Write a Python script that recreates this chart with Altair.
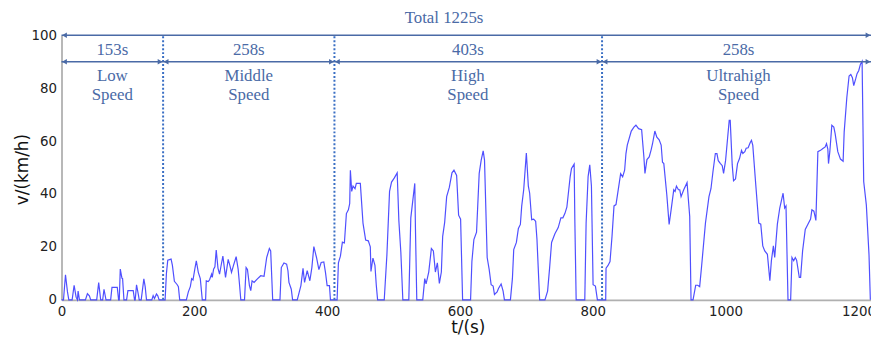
import altair as alt
import pandas as pd

# ---- speed profile (time s, speed km/h) ----
T = [0, 3, 6, 9, 11, 16, 19, 22, 24, 25, 27, 36, 39, 42, 44, 53, 56, 59, 62, 64, 67, 74, 76, 84, 86, 87,
     88.5, 91, 92, 94, 98, 100, 108, 110, 111, 113, 116, 117, 120, 124, 126, 128, 136, 138, 140, 143, 145, 147,
     156, 158, 160, 165, 167, 170, 174, 176, 178, 188, 191, 194, 196, 198, 201, 203, 206, 209, 212,
     217, 218, 221, 223, 226, 227, 229, 231, 233, 235.6, 238, 240, 243, 247, 251, 253.7, 256, 259, 263, 266, 268, 270,
     275.6, 278, 280, 283, 285, 287, 290, 295, 300, 305, 309, 313, 315, 318,
     329, 331, 335, 339, 341, 342.5, 346, 348, 355, 358, 360.5, 363.7, 366, 370, 374, 377, 380, 384, 387.6, 391, 395,
     397.5, 400, 403.5, 405,
     415, 417, 420, 423, 426, 429, 432, 434, 435, 437, 439, 442, 444, 447, 450, 454, 458, 462, 465, 466, 469, 472, 474, 476,
     486, 490, 494, 497, 501, 505.5, 508, 511, 514, 523, 526, 532, 533, 535,
     544, 547, 549, 553, 557, 560, 563, 566, 569, 572, 574, 577, 580, 584, 588, 591, 595, 598, 601, 604,
     616, 618, 621, 625, 629, 632, 635, 637, 641, 644, 647, 650, 652, 656, 658, 662, 665, 667,
     676, 679, 681, 685, 688, 691, 693, 696, 700, 703, 705, 708, 711, 714, 716, 720,
     728, 732, 735, 738, 743, 748, 752, 755, 758, 761, 766, 768, 772, 773, 775,
     788, 790, 793, 795.5, 798, 800.5, 804, 807,
     819.5, 820, 823, 826, 829, 832, 835, 838, 842, 845, 848, 850, 852, 858, 862, 865, 869, 873.6, 877, 878.6,
     881.6, 885, 888, 890, 893.5, 896.5, 900, 903, 905, 907, 911.5, 915, 918, 922, 924, 926, 929, 931, 933, 937,
     942, 946, 948, 951, 955, 958, 961, 964, 969.7, 975, 978, 981, 984.6, 987, 989, 992, 995, 997, 1000, 1003,
     1005.5, 1007, 1010, 1012, 1015, 1018, 1021, 1024, 1026, 1029, 1031, 1034, 1037, 1039, 1041, 1045.5, 1050,
     1053, 1056, 1059, 1063, 1066.7, 1069, 1072, 1074, 1078, 1081.6, 1086.6, 1089, 1091, 1094, 1098, 1100,
     1102.6, 1105, 1107, 1111, 1113, 1116, 1120, 1124, 1128, 1130, 1133, 1136, 1139, 1143, 1146.6, 1150, 1152,
     1154, 1155, 1157, 1160, 1163, 1165, 1169, 1173, 1177, 1178.6, 1182.6, 1186, 1188.6, 1191, 1193, 1196, 1198,
     1200.6, 1203, 1205.6, 1208, 1212, 1216, 1218]
V = [0, 0, 9.5, 3, 0, 0, 5.5, 1, 0, 3.3, 0, 0, 2.3, 1.5, 0, 0, 6.5, 0, 0, 4, 0, 0, 4.7, 4.7, 0, 0,
     11.6, 8.2, 8, 0, 0, 3.5, 3.5, 0, 0, 5.7, 1.6, 0, 0, 7.9, 5, 0, 0, 1.6, 0.5, 2.2, 1.5, 0,
     0, 10, 15, 15.4, 13, 7, 5.8, 5, 0, 0, 3, 5, 8, 7.5, 12, 14.7, 10.4, 8, 0,
     0, 7.2, 6.9, 7.6, 9.7, 8.5, 11.6, 12.5, 18.8, 12, 9.7, 12.5, 16.5, 8.5, 15.3, 12.8, 10.4, 13, 16.3, 11.6, 6, 0,
     0, 12.2, 11.5, 5.4, 3.5, 7.2, 6.6, 7.9, 9.1, 8.9, 16, 19.4, 18.5, 0,
     0, 12.2, 13.9, 13.5, 11, 6.6, 4, 0, 0, 2.9, 5.4, 11.9, 6.6, 11, 7.2, 12.2, 20.1, 16, 11.4, 14.1, 14.3,
     10.4, 5.4, 5.4, 0,
     0, 14, 16.5, 21.8, 21.5, 32.6, 34, 36.4, 49, 41, 43, 42, 44, 44, 44, 29, 22.6, 22.3, 20, 10.7, 15.8, 13, 5.6, 0,
     0, 17, 41, 44.5, 46, 48, 30, 18, 0, 0, 31, 44, 27, 0,
     0, 8, 6, 10.5, 19.4, 18.5, 10.5, 14, 6.2, 10.5, 24, 29.3, 39, 42.5, 48, 49, 47, 32, 30.5, 0,
     0, 14.5, 22.8, 25.6, 47.8, 52.8, 56.3, 52.8, 16, 11.5, 5.7, 5.2, 2, 3, 4.3, 6, 3.3, 0,
     0, 8, 19, 21.7, 27, 28.5, 35.4, 41.6, 55.5, 43, 40.3, 30.3, 30.5, 29.7, 22.8, 0,
     0, 3.3, 12, 21.7, 25, 27.3, 31, 31, 32.6, 35, 46.6, 49.7, 51.3, 30.4, 0,
     0, 29, 46.6, 51, 43, 5.7, 5.2, 0,
     0, 12, 13, 14.5, 24, 35.5, 36, 41, 47.7, 46.5, 49, 55.3, 58.5, 63.8, 65.3, 66, 64.7, 64.3, 54, 47.8,
     53, 54, 56.8, 59, 63.8, 61.5, 60.5, 58.5, 52, 51.5, 39.7, 28.5, 34, 41.6, 41, 43, 41.6, 41.6, 39, 41.6,
     44.3, 31.5, 0, 0, 5.5, 5.5, 5, 13, 29, 39, 42, 48.4, 55.3, 55.3, 52.6, 51.6, 50.7, 47.8, 52.6, 61,
     67.8, 67.8, 51, 45, 45.7, 51.5, 53.4, 56.5, 55.3, 56, 57.3, 57.5, 59.4, 60.3, 58.4, 43.4, 29,
     28.6, 20.4, 18.5, 17.2, 7.2, 14.8, 20.4, 16, 28.6, 34.7, 40.3, 34.7, 35.5, 0, 0, 16,
     14.8, 16, 15, 8.5, 8.5, 18.5, 26.6, 28.6, 30.5, 34, 33.5, 30, 56, 56.5, 57.2, 57.8, 59,
     57, 51.5, 56, 66, 65.3, 62.8, 56, 53.2, 52.4, 63.4, 76.5, 84.6, 85.2, 84, 81, 83.6, 85.5,
     86.7, 89, 90.2, 44.7, 35.8, 17, 0]

# ---- annotations ----
BOUNDARIES = [153, 411, 814]
ARROW_START = [0, 0, 153, 411, 814]
ARROW_END = [1219, 153, 411, 814, 1219]
ARROW_Y = [100, 90, 90, 90, 90]
LABEL_T = [576, 76.5, 282, 612, 1019.5, 76.5, 76.5, 282, 282, 612, 612, 1019.5, 1019.5]
LABEL_V = [106.4, 94.3, 94.3, 94.3, 94.3, 84.6, 77.3, 84.6, 77.3, 84.6, 77.3, 84.6, 77.3]
LABEL_TEXT = ["Total 1225s", "153s", "258s", "403s", "258s",
              "Low", "Speed", "Middle", "Speed", "High", "Speed", "Ultrahigh", "Speed"]

X_TICKS = [0, 200, 400, 600, 800, 1000, 1200]
Y_TICKS = [0, 20, 40, 60, 80, 100]

W, H = 817, 267
ANNO = "#4a6aa6"

speed = pd.DataFrame({"t": T, "v": V})
bounds = pd.DataFrame({"t": BOUNDARIES, "v": [0] * len(BOUNDARIES), "v2": [100] * len(BOUNDARIES)})
arrows = pd.DataFrame({"t": ARROW_START, "t2": ARROW_END, "v": ARROW_Y})
labels = pd.DataFrame({"t": LABEL_T, "v": LABEL_V, "label": LABEL_TEXT})

xscale = alt.Scale(domain=[0, 1219], nice=False, zero=False)
yscale = alt.Scale(domain=[0, 100], nice=False)

line = alt.Chart(speed).mark_line(color="#3c3cff", strokeWidth=1.2, opacity=0.9).encode(
    x=alt.X("t:Q", scale=xscale, axis=alt.Axis(
        values=X_TICKS, format="d", labelFlush=False, title="t/(s)", titleX=410, titleY=28,
        titleBaseline="middle", titleAlign="center")),
    y=alt.Y("v:Q", scale=yscale, axis=alt.Axis(
        values=Y_TICKS, format="d", title="v/(km/h)", titleX=-39, titleY=135, titleAngle=270,
        titleBaseline="middle", titleAlign="center")),
)

vrules = alt.Chart(bounds).mark_rule(color="#3a6fc4", strokeWidth=2, strokeDash=[2, 2]).encode(
    x="t:Q", y="v:Q", y2="v2:Q")

hrules = alt.Chart(arrows).mark_rule(color=ANNO, strokeWidth=1.6).encode(
    x="t:Q", x2="t2:Q", y="v:Q")

heads_r = alt.Chart(arrows).mark_point(shape="triangle-right", filled=True, size=32, color=ANNO,
                                       opacity=1, xOffset=-3).encode(
    x=alt.X("t2:Q"), y="v:Q")
heads_l = alt.Chart(arrows).mark_point(shape="triangle-left", filled=True, size=32, color=ANNO,
                                       opacity=1, xOffset=3).encode(
    x="t:Q", y="v:Q")

texts = alt.Chart(labels).mark_text(font="Liberation Serif", fontSize=17, color=ANNO,
                                    baseline="middle", align="center").encode(
    x="t:Q", y="v:Q", text="label:N")

chart = alt.layer(line, vrules, hrules, heads_r, heads_l, texts).properties(
    width=W, height=H,
    autosize=alt.AutoSizeParams(type="none"),
    padding={"left": 54, "top": 26, "right": 0, "bottom": 38},
).configure_view(stroke=None).configure_axis(
    grid=False, ticks=False, domainColor="#b0b0b0", domainWidth=1.8,
    labelFont="DejaVu Sans", labelFontSize=13.5, labelColor="#222222", labelPadding=5,
    titleFont="DejaVu Sans", titleFontSize=17, titleFontWeight="normal", titleColor="#111111",
)

chart.save("out.html", embed_options={"renderer": "svg", "actions": False})
